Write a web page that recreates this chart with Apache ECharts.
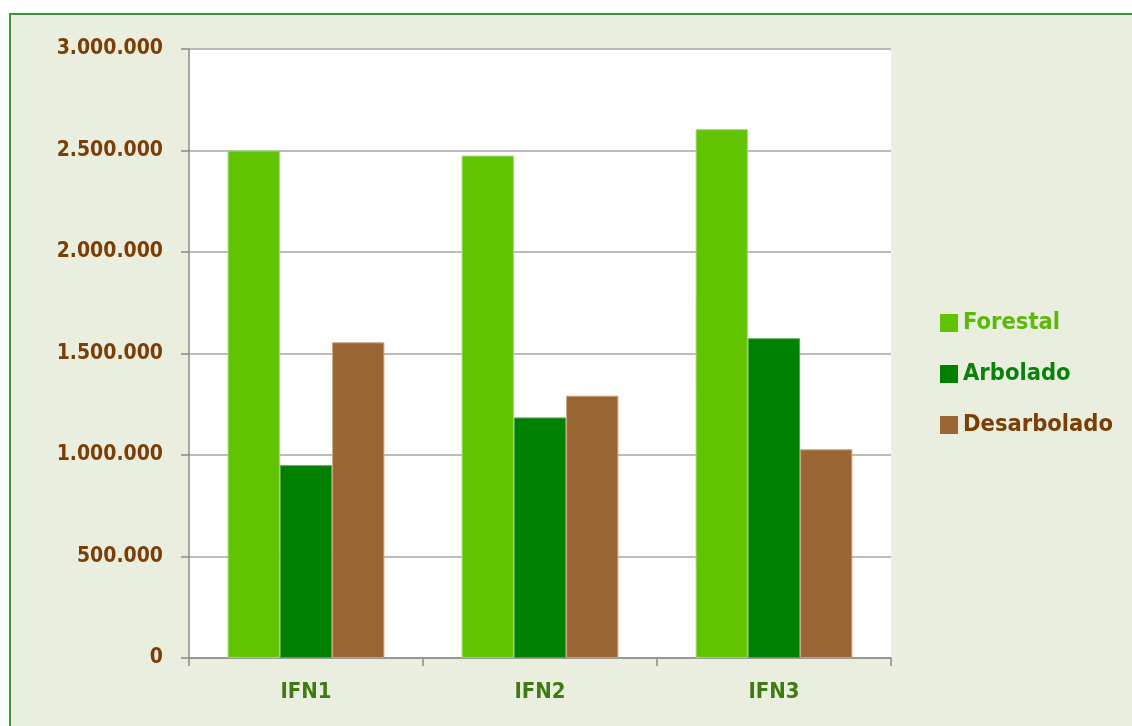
<!DOCTYPE html>
<html>
<head>
<meta charset="utf-8">
<title>Superficie forestal IFN</title>
<script src="https://cdn.jsdelivr.net/npm/echarts@6/dist/echarts.min.js"></script>
<style>
  html, body { margin: 0; padding: 0; background: #ffffff; }
  #frame {
    position: absolute; left: 9px; top: 13px; width: 1200px; height: 800px;
    background: #EAEEDE; border-left: 2px solid #3C963C; border-top: 2px solid #3C963C;
  }
  #chart { position: absolute; left: 0; top: 0; width: 1132px; height: 726px; }
</style>
</head>
<body>
<div id="frame"></div>
<div id="chart"></div>
<script>
// Inventarios Forestales Nacionales
const categories = ['IFN1', 'IFN2', 'IFN3'];
const forestal = [2500000, 2475000, 2605000];
const arbolado = [950000, 1185000, 1575000];
const desarbolado = [1555000, 1292000, 1028000];
const yTicks = { min: 0, max: 3000000, step: 500000 };

const FONT = 'DejaVu Sans Condensed';

function fmtMiles(v) {
  return String(v).replace(/\B(?=(\d{3})+(?!\d))/g, '.');
}

const chart = echarts.init(document.getElementById('chart'), null, { renderer: 'canvas' });

function barSeries(name, data, color, edge) {
  return {
    name: name,
    type: 'bar',
    data: data,
    barGap: '0%',
    barCategoryGap: '33%',
    itemStyle: { color: color, borderColor: edge, borderWidth: 1 },
    emphasis: { disabled: true }
  };
}

chart.setOption({
  animation: false,
  backgroundColor: 'transparent',
  grid: {
    left: 189, right: 241, top: 49, bottom: 68,
    show: true, backgroundColor: '#ffffff', borderWidth: 0
  },
  legend: {
    orient: 'vertical',
    left: 940,
    top: 311,
    padding: 0,
    itemWidth: 18,
    itemHeight: 18,
    itemGap: 27,
    icon: 'rect',
    selectedMode: false,
    itemStyle: { borderWidth: 0 },
    textStyle: { fontFamily: FONT, fontWeight: 'bold', fontSize: 23.5, lineHeight: 22 },
    data: [
      { name: 'Forestal', textStyle: { color: '#5CB80A' } },
      { name: 'Arbolado', textStyle: { color: '#0A820A' } },
      { name: 'Desarbolado', textStyle: { color: '#7A3E06' } }
    ]
  },
  xAxis: {
    type: 'category',
    data: categories,
    axisLine: { lineStyle: { color: '#8C8C8C', width: 1.5 } },
    axisTick: { show: true, length: 8, lineStyle: { color: '#8C8C8C', width: 1.5 } },
    axisLabel: {
      margin: 23,
      color: '#3F7A12',
      fontFamily: FONT, fontWeight: 'bold', fontSize: 22
    }
  },
  yAxis: {
    type: 'value',
    min: yTicks.min,
    max: yTicks.max,
    interval: yTicks.step,
    axisLine: { show: true, lineStyle: { color: '#8C8C8C', width: 1.5 } },
    axisTick: { show: true, length: 8, lineStyle: { color: '#8C8C8C', width: 1.5 } },
    splitLine: { lineStyle: { color: '#A6A6A6', width: 1.5 } },
    axisLabel: {
      margin: 26,
      color: '#7A3E06',
      fontFamily: FONT, fontWeight: 'bold', fontSize: 21,
      formatter: fmtMiles
    }
  },
  series: [
    barSeries('Forestal', forestal, '#62C300', '#9BDC6A'),
    barSeries('Arbolado', arbolado, '#008000', '#4FA84F'),
    barSeries('Desarbolado', desarbolado, '#996633', '#C9A27E')
  ]
});
</script>
</body>
</html>
